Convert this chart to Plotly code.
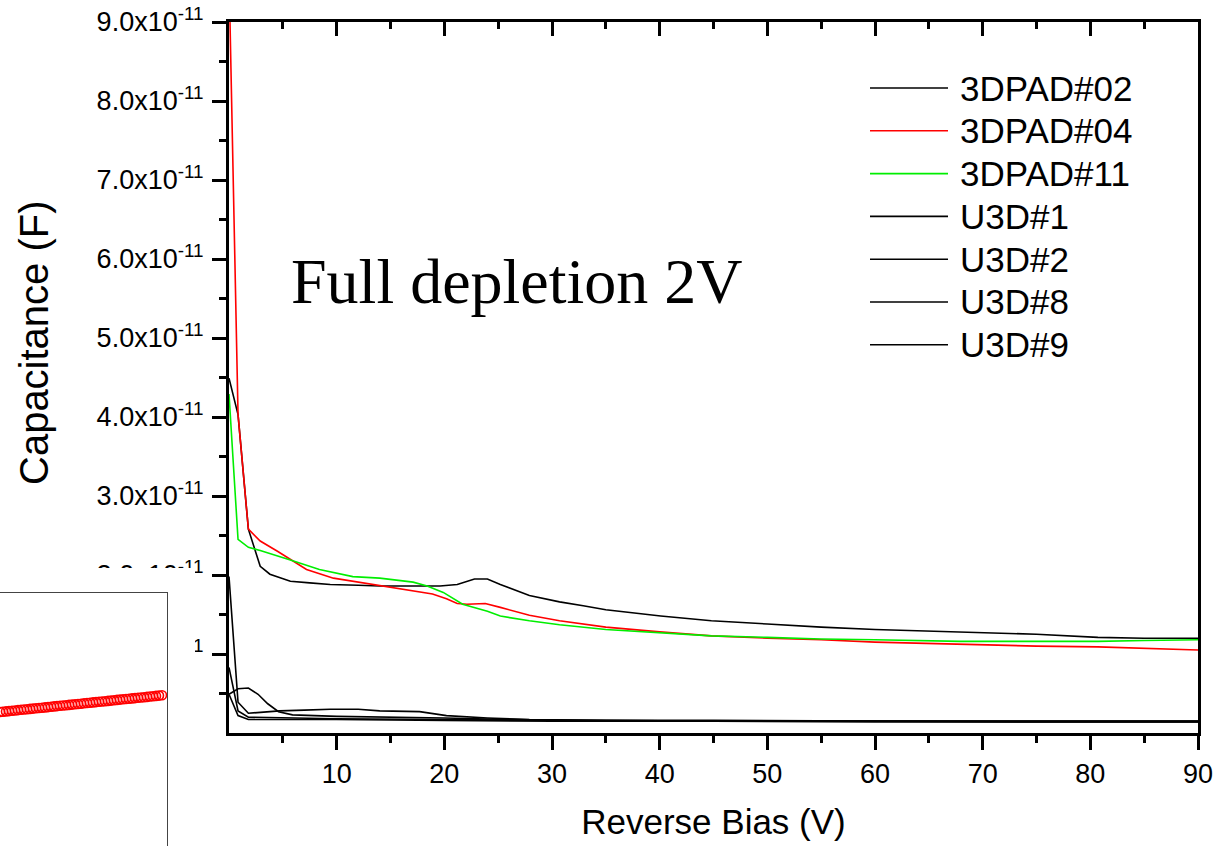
import plotly.graph_objects as go

W, H = 1225, 846
UNIT = 1e-11  # capacitance values below are given in units of 1e-11 F

# ---- C-V data: reverse bias (V) and capacitance (x1e-11 F) ----
bias_3dpad02 = [0, 0.84, 1.8, 2.9, 3.8, 5.7, 7.5, 9.4, 12, 14, 17, 19.6, 21.2, 22.8, 24.0, 25.2,
                27.9, 30.7, 32.9, 35, 40.1, 44.8, 50, 55, 60, 67.9, 75, 80.7, 85, 90]
cap_3dpad02 = [4.49, 4.03, 2.58, 2.11, 2.01, 1.92, 1.90, 1.88, 1.87, 1.86, 1.86, 1.86, 1.88, 1.95, 1.95, 1.88,
               1.74, 1.66, 1.61, 1.56, 1.48, 1.42, 1.38, 1.34, 1.31, 1.28, 1.25, 1.21, 1.20, 1.20]

bias_3dpad04 = [0, 0.84, 1.8, 2.9, 4.5, 5.7, 7.2, 9.7, 12.4, 15, 17.1, 18.9, 20.2, 21.2, 22.1, 23.8,
                25.2, 27.9, 30.7, 35, 40, 44.8, 50, 55, 60, 67.9, 75, 80.7, 85, 90]
cap_3dpad04 = [9.62, 4.03, 2.58, 2.43, 2.30, 2.20, 2.07, 1.96, 1.90, 1.85, 1.80, 1.76, 1.70, 1.64, 1.63, 1.64,
               1.59, 1.49, 1.42, 1.34, 1.28, 1.23, 1.20, 1.18, 1.15, 1.12, 1.10, 1.09, 1.07, 1.05]

bias_3dpad11 = [0, 0.84, 1.8, 2.9, 5.7, 8.4, 11.5, 14, 17.1, 18.4, 19.9, 21.7, 24, 25.2, 27.9,
                30.7, 35, 40, 44.8, 50, 55, 60, 67.9, 75, 80.7, 85, 90]
cap_3dpad11 = [4.29, 2.45, 2.35, 2.31, 2.19, 2.07, 1.98, 1.96, 1.91, 1.86, 1.78, 1.63, 1.54, 1.48, 1.42,
               1.37, 1.31, 1.27, 1.23, 1.21, 1.19, 1.18, 1.16, 1.16, 1.16, 1.17, 1.18]

bias_u3d1 = [0, 0.84, 1.8, 4.7, 7, 9.4, 12, 14, 17.7, 20.2, 24, 27.9, 35, 45, 60, 75, 90]
cap_u3d1 = [1.98, 0.39, 0.25, 0.28, 0.29, 0.30, 0.30, 0.28, 0.27, 0.22, 0.19, 0.17, 0.16, 0.16, 0.15, 0.15, 0.15]

bias_u3d2 = [0, 0.84, 1.8, 5, 10, 20, 30, 45, 60, 75, 90]
cap_u3d2 = [0.83, 0.28, 0.20, 0.19, 0.18, 0.17, 0.16, 0.15, 0.15, 0.14, 0.14]

bias_u3d8 = [0, 0.84, 1.8, 2.7, 3.6, 4.6, 5.9, 10, 20, 30, 45, 60, 75, 90]
cap_u3d8 = [0.49, 0.56, 0.57, 0.49, 0.37, 0.27, 0.23, 0.21, 0.19, 0.16, 0.15, 0.15, 0.15, 0.15]

bias_u3d9 = [0, 0.84, 1.8, 5, 10, 20, 30, 45, 60, 75, 90]
cap_u3d9 = [0.49, 0.22, 0.17, 0.17, 0.17, 0.16, 0.15, 0.15, 0.14, 0.14, 0.14]

series_names = ["3DPAD#02", "3DPAD#04", "3DPAD#11", "U3D#1", "U3D#2", "U3D#8", "U3D#9"]
series_colors = ["#000000", "#ff0000", "#00ee00", "#000000", "#000000", "#000000", "#000000"]
series_bias = [bias_3dpad02, bias_3dpad04, bias_3dpad11, bias_u3d1, bias_u3d2, bias_u3d8, bias_u3d9]
series_cap = [cap_3dpad02, cap_3dpad04, cap_3dpad11, cap_u3d1, cap_u3d2, cap_u3d8, cap_u3d9]

# axis ticks
x_major = [10, 20, 30, 40, 50, 60, 70, 80, 90]
x_minor = [5, 15, 25, 35, 45, 55, 65, 75, 85]
y_major = [1, 2, 3, 4, 5, 6, 7, 8, 9]
y_minor = [0.5, 1.5, 2.5, 3.5, 4.5, 5.5, 6.5, 7.5, 8.5]
y_ticktext = ["%.1fx10<sup>-11</sup>" % v for v in y_major]

# small pasted inset (red open-marker series), arbitrary units
inset_x = [0, 3, 6, 9, 12, 15, 18, 21, 24, 27, 30, 33, 36, 39, 42, 45, 48, 51, 54, 57, 60, 63, 66, 69,
           72, 75, 78, 81, 84, 87, 90, 93, 96, 99, 102, 105, 108, 111, 114, 117, 120, 123, 126, 129,
           132, 135, 138, 141, 144, 147, 150, 153, 156, 159, 162]
inset_y = [134.0, 134.3, 134.6, 134.9, 135.2, 135.5, 135.9, 136.2, 136.5, 136.8, 137.1, 137.4, 137.7,
           138.0, 138.3, 138.6, 138.9, 139.3, 139.6, 139.9, 140.2, 140.5, 140.8, 141.1, 141.4, 141.7,
           142.0, 142.3, 142.7, 143.0, 143.3, 143.6, 143.9, 144.2, 144.5, 144.8, 145.1, 145.4, 145.7,
           146.1, 146.4, 146.7, 147.0, 147.3, 147.6, 147.9, 148.2, 148.5, 148.8, 149.1, 149.5, 149.8,
           150.1, 150.4, 150.7]

FONT = "Liberation Sans, Arial, sans-serif"

def px_x(p):
    return p / W

def px_y(p):
    return 1 - p / H

# main plot area in pixels
PL, PR, PT, PB = 229, 1198, 22, 733
# inset frame in pixels
IR, IT = 167, 593
COVER_R, COVER_T = 195, 568

fig = go.Figure()

for name, v, c, col in zip(series_names, series_bias, series_cap, series_colors):
    fig.add_trace(go.Scatter(
        x=v, y=[val * UNIT for val in c], mode="lines", name=name,
        line=dict(color=col, width=1.6), showlegend=False, hoverinfo="skip",
        xaxis="x", yaxis="y"))

# top axis (ticks pointing inward)
fig.add_trace(go.Scatter(x=[], y=[], xaxis="x3", yaxis="y", showlegend=False))

# inset series
fig.add_trace(go.Scatter(
    x=inset_x, y=inset_y, mode="markers", xaxis="x2", yaxis="y2", showlegend=False,
    marker=dict(symbol="circle-open", size=9, color="#ff0000", line=dict(width=1.6)),
    hoverinfo="skip"))

tick_font = dict(family=FONT, size=27, color="black")

fig.update_layout(
    width=W, height=H,
    margin=dict(l=0, r=0, t=0, b=0, autoexpand=False),
    paper_bgcolor="white", plot_bgcolor="white",
    showlegend=False,
    xaxis=dict(
        domain=[px_x(PL), px_x(PR)], range=[0, 90], anchor="y", automargin=False,
        showline=True, linecolor="black", linewidth=3, mirror=False,
        showgrid=False, zeroline=False,
        tickmode="array", tickvals=x_major, ticktext=[str(v) for v in x_major],
        ticks="outside", ticklen=14, tickwidth=3, tickcolor="black",
        minor=dict(tickmode="array", tickvals=x_minor, ticks="outside", ticklen=7, tickwidth=3, tickcolor="black"),
        tickfont=tick_font, ticklabelstandoff=1,
        title=dict(text="Reverse Bias (V)", font=dict(family=FONT, size=35, color="black"), standoff=22),
    ),
    xaxis3=dict(
        overlaying="x", side="top", anchor="y", range=[0, 90], matches="x", automargin=False,
        showline=True, linecolor="black", linewidth=3,
        showgrid=False, zeroline=False, showticklabels=False,
        tickmode="array", tickvals=x_major,
        ticks="inside", ticklen=14, tickwidth=3, tickcolor="black",
        minor=dict(tickmode="array", tickvals=x_minor, ticks="inside", ticklen=7, tickwidth=3, tickcolor="black"),
    ),
    yaxis=dict(
        domain=[px_y(PB), px_y(PT)], range=[0, 9 * UNIT], anchor="x", automargin=False,
        showline=True, linecolor="black", linewidth=3, mirror=True,
        showgrid=False, zeroline=False,
        tickmode="array", tickvals=[v * UNIT for v in y_major], ticktext=y_ticktext,
        ticks="outside", ticklen=14, tickwidth=3, tickcolor="black",
        minor=dict(tickmode="array", tickvals=[v * UNIT for v in y_minor], ticks="outside",
                   ticklen=7, tickwidth=3, tickcolor="black"),
        tickfont=tick_font, ticklabelstandoff=3,
    ),
    xaxis2=dict(
        domain=[0, px_x(IR)], range=[0, IR], anchor="y2", side="top", automargin=False,
        showline=True, linecolor="#444444", linewidth=1.5,
        showgrid=False, zeroline=False, showticklabels=False, ticks="",
    ),
    yaxis2=dict(
        domain=[0, px_y(IT)], range=[0, H - IT], anchor="x2", side="right", automargin=False,
        showline=True, linecolor="#444444", linewidth=1.5,
        showgrid=False, zeroline=False, showticklabels=False, ticks="",
    ),
)

shapes = [
    # white backing of the pasted inset (drawn in the inset's own layer)
    dict(type="rect", xref="x2", yref="y2", x0=0, x1=IR, y0=0, y1=H - IT,
         fillcolor="white", line=dict(width=0), layer="below"),
    # white surround of the pasted inset
    dict(type="rect", xref="paper", yref="paper", x0=0, x1=px_x(COVER_R), y0=px_y(COVER_T), y1=px_y(IT - 1),
         fillcolor="white", line=dict(width=0), layer="above"),
    dict(type="rect", xref="paper", yref="paper", x0=px_x(IR + 1), x1=px_x(COVER_R), y0=0, y1=px_y(COVER_T),
         fillcolor="white", line=dict(width=0), layer="above"),
]

annotations = [
    dict(text="Full depletion 2V", xref="paper", yref="paper", x=px_x(517), y=px_y(281),
         xanchor="center", yanchor="middle", showarrow=False,
         font=dict(family="Liberation Serif, Times New Roman, serif", size=64, color="black")),
    # y-axis title
    dict(text="Capacitance (F)", xref="paper", yref="paper", x=px_x(34), y=px_y(343),
         xanchor="center", yanchor="middle", textangle=-90, showarrow=False,
         font=dict(family=FONT, size=40, color="black")),
]

# legend block
LEG_X0, LEG_X1, LEG_TX, LEG_Y0, LEG_DY = 870, 948, 958, 88, 42.8
for i, (name, col) in enumerate(zip(series_names, series_colors)):
    yy = LEG_Y0 + i * LEG_DY
    shapes.append(dict(type="line", xref="paper", yref="paper",
                       x0=px_x(LEG_X0), x1=px_x(LEG_X1), y0=px_y(yy), y1=px_y(yy),
                       line=dict(color=col, width=1.6)))
    annotations.append(dict(text=name, xref="paper", yref="paper", x=px_x(LEG_TX), y=px_y(yy),
                            xanchor="left", yanchor="middle", showarrow=False,
                            font=dict(family=FONT, size=35, color="black")))

fig.update_layout(shapes=shapes, annotations=annotations)

fig.write_html("out.html")
